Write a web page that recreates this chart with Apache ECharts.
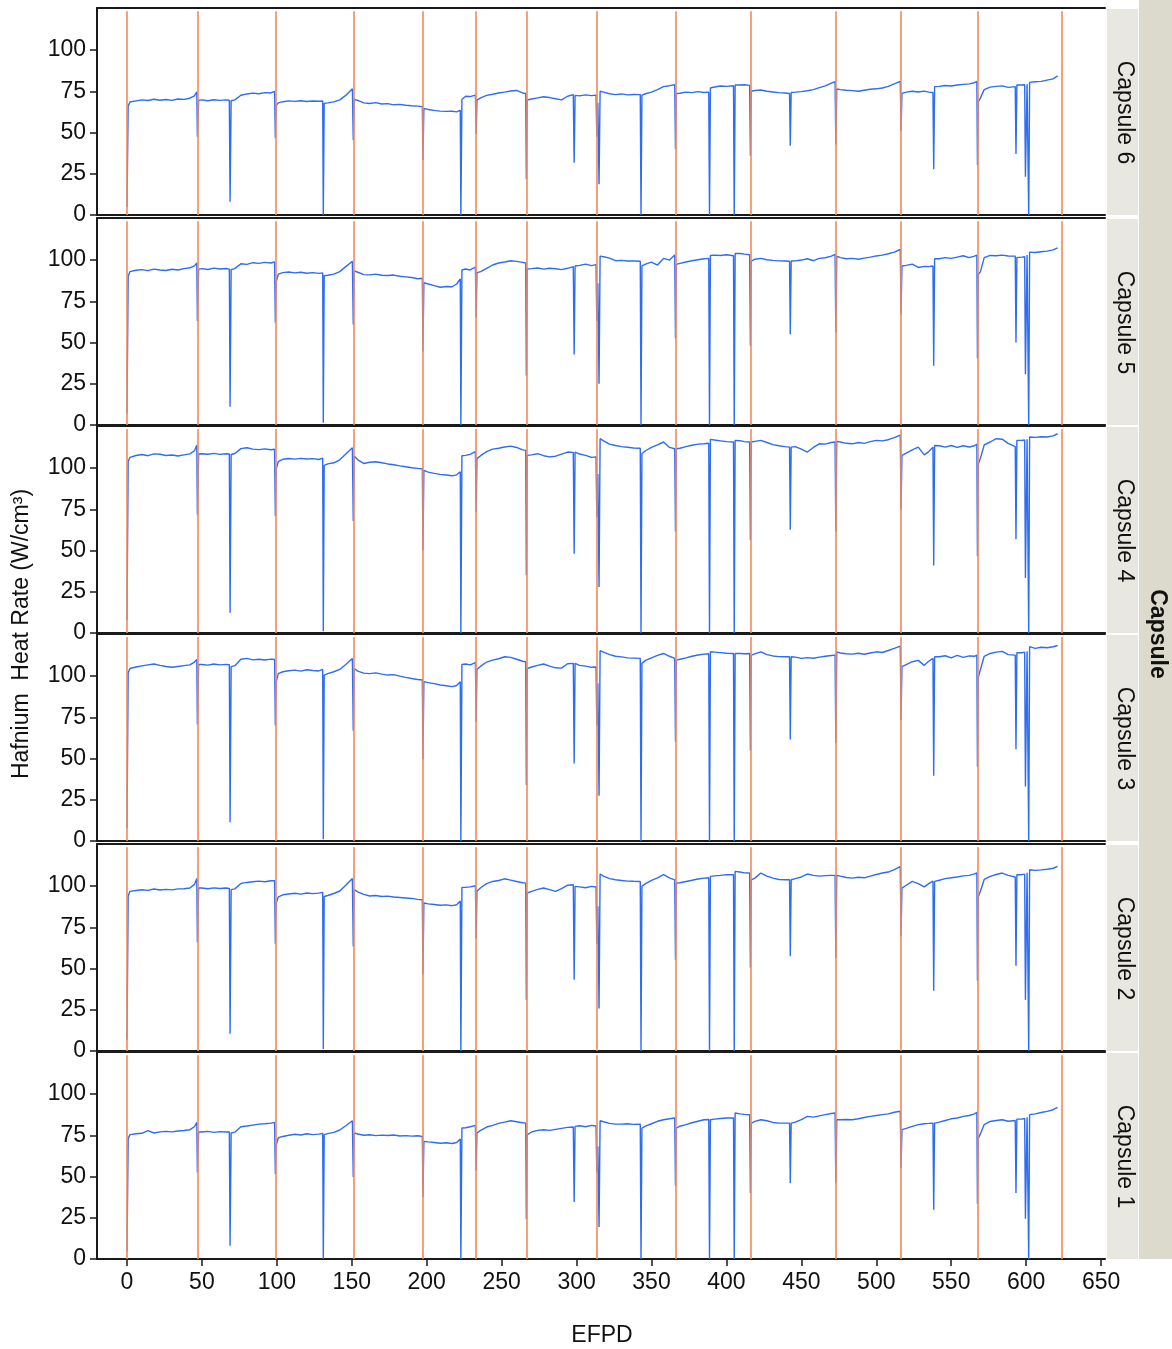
<!DOCTYPE html>
<html><head><meta charset="utf-8">
<script src="https://cdn.jsdelivr.net/npm/echarts@6/dist/echarts.min.js"></script>
<style>html,body{margin:0;padding:0;background:#fff}#c{width:1172px;height:1349px}</style>
</head><body><div id="c"></div>
<script>
// EFPD sample points (shared by all capsules)
const efpd = [
 0,0.8,2,6,10,14,18,22,26,30,34,38,42,45,46.6,47,47.8,
 50,54,58,62,66,68.3,68.8,69.5,72,76,80,84,88,92,96,98.5,99,99.6,
 101,104,108,112,116,120,124,128,130.6,131,131.6,
 134,138,142,146,150.4,151,151.6,
 154,158,162,166,170,174,178,182,186,190,194,197.1,197.5,198.1,
 201,205,209,213,217,220,222.4,222.8,223.5,
 226,229,232.5,233,233.5,
 236,240,244,248,252,256,260,264,266.1,266.5,267.1,
 270,274,278,282,286,290,294,297.8,298.4,299,
 302,306,310,313,313.5,314.2,315,315.7,
 318,322,326,330,334,338,342.5,343,343.6,
 346,350,354,358,362,365.5,366,366.6,
 369,373,377,381,385,388.2,388.7,389.3,
 392,396,400,404.7,405.2,405.8,
 409,412,415.5,416,416.6,
 419,423,427,431,435,439,442.1,442.6,443.2,
 446,450,454,458,462,466,470,472.5,473,473.6,
 476,480,484,488,492,496,500,504,508,512,516,516.5,517.1,
 520,524,528,532,535,537.8,538.3,538.9,
 542,546,550,554,558,562,565.5,567.1,567.5,568.1,
 569.5,572,576,580,584,588,592.7,593.2,593.8,
 597,599,599.5,600.6,601.7,602.3,
 606,610,614,618,621
];
const cap6 = [
 5,66,68.5,69.2,69.8,69.4,70.2,69.6,70,69.5,70.3,70.1,70.8,72.2,74.6,47.5,69.5,
 69.8,69.3,69.9,69.5,69.8,69.6,8,69.3,69.8,72.6,73.4,73.9,73.5,74.2,74,75,46.5,66.5,
 68,68.7,69.2,68.9,69.3,68.8,69.1,69,69.1,0,67.7,
 68,68.6,69.8,72.5,76.5,45.5,70,
 69.5,68,67.6,68.1,67.3,67.5,66.8,67.1,66.5,66.2,66,65.7,33.3,64.6,
 64,63.4,63,62.8,62.9,62.5,63.5,0,70,
 72,71.8,72.7,49,69.7,
 71,72.5,73.2,74,74.5,75.2,75.5,74,73.7,21.8,69.7,
 70.3,71,71.7,71.2,70.5,69.8,72,73,31.7,72.5,
 72.2,72.8,72.4,72.7,47.5,68,18.6,75,
 74.5,73.5,73,73.4,72.8,73.1,73,0,72.7,
 73.5,74.5,76,77.8,78.4,79,40,73.7,
 73.8,74.5,74.2,74.8,74.3,74.5,0,77,
 77.6,78.2,78,78.4,0,78.8,
 78.8,79,78.6,36,75,
 75.5,75.8,75,74.6,74.2,74,73.7,42,74.3,
 74.5,74.8,75.3,76,77.2,78.3,80,80.8,42.8,76.4,
 76,75.6,75.4,75,75.6,76.2,76.5,77,78,79.5,81,51,73.7,
 74.5,75,74.6,75.1,74.5,74.3,27.7,77.8,
 78,78.5,78.2,78.8,79.2,79.5,80.2,81,30.3,68.7,
 71,76,77.5,78,78.3,77.4,77.8,37,78.8,
 78.8,79,23.2,79.2,0,80.4,
 80.8,81,81.8,82.5,84.3
];
const cap5 = [
 7,90,93,93.8,94.2,93.6,94.5,94,93.7,94.4,94,94.8,95.3,96.5,98.2,63,94.5,
 94.8,94.3,95.1,94.6,94.9,94.5,11,94.2,94.8,97.8,97.4,98.4,98,98.6,98.2,98.8,62,87,
 91.5,92.4,92.8,92.2,92.6,92,92.4,91.9,92.2,1.4,90.5,
 90.8,91.5,93,96,99.3,61,93.4,
 92.6,91.2,91,91.5,90.8,90.6,90.9,90.2,89.8,89.4,88.7,89,44.6,86.3,
 85.5,84.5,83.5,84,83.8,85.5,88.5,0,94,
 94.6,94,95.8,65,92.4,
 93,95,97,98.2,98.8,99.6,99.2,98.6,98.2,30,94.6,
 94.8,95.2,94.5,95,94.7,94.2,95,96,42.7,96.4,
 96.8,97.5,96.6,97.2,63,86,25,102.4,
 102,101.2,99.6,99.8,99.4,99.4,99.3,0,96.4,
 97.5,98.8,97,101,100,103,52.6,97.4,
 98,98.8,99.6,100.2,100.8,101,0,102.8,
 103,102.8,103.2,102.6,0,104,
 104,103.6,103.2,48,99.4,
 100.5,101,100.2,99.8,99.5,99.4,99.3,55,99.4,
 99.5,100,100.8,99.6,101,101.4,102.4,103.4,56,102.4,
 101.5,100.8,101,100.5,101.2,101.8,102.5,103,103.8,104.8,106.4,67,96.4,
 96.8,97.5,95.5,96.2,96,96.4,36,100.8,
 100.8,101.5,101,101.8,102.6,101.5,102.4,103,40.5,91.4,
 93,101.5,102.8,102.6,103,102.5,102.4,50,101.5,
 101.8,102,30.7,103,0,104.8,
 104.6,105,105.4,106.2,107.4
];
const cap4 = [
 7.7,104,106.5,107.6,108.2,107.5,108.6,108.4,107.6,107.9,107.3,108,108.6,110.5,113.8,71.7,108.5,
 108.7,108.4,108.9,108.3,108.7,108.5,12.3,108.2,108.8,111.8,112.3,111.5,111.2,111.6,111.1,111.4,71,99.6,
 104,105.3,105.8,105.4,105.9,105.5,105.7,105.2,106,1,101.6,
 102.5,103.2,105,108.5,112.3,67.9,107.3,
 105,102.8,103.5,103.8,103.2,102.5,102,101.3,100.8,100.2,99.8,99.6,50,98.6,
 97.5,96.8,96.2,95.8,95.3,95.9,97.8,0,107.5,
 107.7,108.3,110,73.3,105.7,
 107.5,110,111.5,112,112.8,113.3,112.5,111,110.7,35,107.7,
 108,108.7,107.5,106.8,107.2,108.5,109.7,109.5,48,109.7,
 108.5,107.7,106.5,106.8,70.3,96.4,27.9,117.8,
 116.5,114.5,113.7,113,112.6,112.2,112,0,108.7,
 110.5,112.5,114,115.8,112.5,111.7,61.6,111.7,
 112,113,113.8,114.5,114.7,115,0,117.4,
 117,116.5,116,115.8,0,116.8,
 116.6,116,115.8,56.2,115.8,
 116.2,116.8,115.5,114.2,113.5,113,112.7,62.6,112.7,
 113,111.5,109.7,112.5,114.7,114.5,115.5,115.8,61.6,116.2,
 115.8,115,114.7,115.5,115,116,116.8,116.5,117.2,118.5,120,74.7,107.7,
 109,111,112.7,108,110,112.7,41,113.7,
 113.5,112.7,113.7,112.5,113.5,112.8,113.5,114.5,46.5,102.6,
 106,114,115.8,117.8,117.5,115,113,56.8,116.8,
 116.8,117,33.3,117.5,0,118.8,
 118.6,119,118.8,119.5,120.8
];
const cap3 = [
 7.7,102,104.6,105.5,106.2,106.8,107.3,106.5,105.8,105.3,105.8,106.3,106.8,108.5,110,70.7,107,
 107,106.6,107.3,106.8,107.1,106.9,11.3,105.7,106.3,110.2,110.7,109.8,110.2,109.7,110.3,110,70,96.6,
 101.5,102.6,103.2,103.6,103,103.8,103.4,103.1,104,1,100.6,
 101.5,102.6,104,107,110.7,66.9,104.6,
 103,101.8,101.5,101.9,101.2,100.6,100.9,100,99.2,98.5,97.9,97.6,49.5,96.6,
 96,95.4,94.6,94.1,93.6,94.3,96.5,0,107,
 107.3,106.8,108.2,72.3,104,
 106,108.5,109.7,110.5,111.7,111.3,110.2,109,108.7,34,104.6,
 105.5,106.5,107.3,106,105,104.8,107.5,107.7,47,107.7,
 106.5,106,105.3,105.5,70,95.6,27.5,115.4,
 114.5,113,112,111.6,111,110.9,110.7,0,107.7,
 109.5,111,112.5,113.7,112,110.7,60.2,109.7,
 110.2,111,112,112.8,113.3,113.5,0,114.7,
 114.5,114.2,113.8,113.7,0,113.7,
 113.7,113.5,113.7,54.7,112.7,
 113.5,114.7,113,112.2,111.8,111.7,111.7,61.6,111.7,
 111.5,110.7,111.2,110.8,111.5,112,112.5,112.7,59.6,114.7,
 114,113.5,113.3,113.8,113.2,114,114.7,114.3,115.5,116.8,118.2,73.3,105.7,
 107,108.7,109.5,106.5,109,110.7,39.6,111.7,
 111.7,112.3,111,112.5,111.3,112.2,112,112.7,45,99.6,
 104,112,113.7,114.5,115,113,112.7,55.6,114.1,
 114.1,114.5,33,115,0,117.8,
 116.8,117.5,117.2,117.8,118.5
];
const cap2 = [
 6.9,94,96.8,97.3,97.8,97.4,98.2,97.6,98,97.7,98.3,98.4,98.8,101,104.5,66,98.8,
 98.8,98.4,98.9,98.5,98.8,98.6,10.5,97.8,98.3,101.6,102.2,102.6,103,102.6,103.2,103.3,65,89.7,
 93.5,94.7,95.2,95.6,95.1,95.8,95.4,95.7,96.2,1.2,93.7,
 94.3,95.5,97,100.5,104.6,63.4,97.8,
 96.5,95,94,94.3,93.7,93.9,93.4,93.1,92.8,92.5,91.9,91.7,46.5,89.7,
 89.2,88.8,88.4,88.6,88.1,88.7,91,0,99.2,
 99.2,99.5,100.2,68,96.8,
 99,101.5,102.8,103.4,104.4,103.6,102.8,102,101.8,31.1,95.8,
 96.8,98,98.8,97.8,96.8,98.5,100.5,100.8,43.2,99.8,
 99.5,99,99.8,99.4,65,87.7,25.7,107.3,
 106,104.5,103.8,103.4,103,102.9,102.8,0,99.8,
 101.5,103.5,105,106.9,105,103.8,55.4,101.8,
 102,102.8,103.5,104.3,104.8,105,0,105.9,
 106.2,106.5,106.9,106.9,0,108.9,
 108.5,108,107.9,50.7,103.8,
 104.8,107.9,106,104.8,104,103.8,103.8,57.4,103.8,
 104.5,105.5,107.3,106.5,106,106.3,106.5,106.5,56.4,106.5,
 106,105.2,104.8,105.3,105,106,107,107.9,108.5,110,111.8,69.5,98.8,
 100.5,102.8,101.5,99.5,101.5,103,36.6,102.8,
 103.5,104.5,105,105.5,106.2,106.5,107.4,107.9,42.6,93.7,
 97,104,105.9,107,107.9,106.5,105.5,51.7,106.9,
 106.9,107.2,31,108,0,109.9,
 109.5,109.8,110.2,110.8,111.9
];
const cap1 = [
 4.6,73,75.4,75.9,76.2,77.8,76.4,77.1,77.4,77.1,77.6,77.9,78.4,80.2,82.8,52.5,77,
 77,77.4,76.8,77.2,77,77.1,8.1,76.4,76.9,80.2,80.6,81.2,81.8,82,82.4,82.8,51.5,69.3,
 73.5,74.3,75,75.6,75.2,75.9,75.4,75.7,76.2,0,75.4,
 76,76.8,78.2,80.8,83.8,49.7,76.4,
 75.8,75,75.3,74.8,75.1,74.9,75.2,74.6,74.8,74.5,74.7,74.3,37.4,71.3,
 71,70.6,70.2,70.5,70,70.6,72.8,0,79.4,
 79.6,80.2,81,53.5,76.4,
 78,80,81,82.2,83,83.8,83.2,82.6,82.4,24.2,75.4,
 77,78,78.4,78,78.6,79.2,79.8,80,34.5,80.4,
 80.8,80.2,81,80.6,52.5,68.3,19.4,83.8,
 83.2,82.2,81.8,81.8,82,81.6,81.8,0,79.4,
 80.5,82,83.5,84.4,85,85.5,44.4,79.4,
 80.5,81.5,82.6,83.5,84.4,84.6,0,84.4,
 84.8,85.2,85.5,85.5,0,88.5,
 88,87.7,87.5,40,82.4,
 83.4,84.4,83.8,82.8,82.4,82.4,82.4,46,82.4,
 83,84.5,86.5,86,86.8,87.5,88.2,88.5,46,84.4,
 84.4,84.6,84.4,85,85.8,86.5,87,87.5,88,89,89.6,55.2,78.4,
 79.2,80.4,81.5,82,82.2,82.4,29.9,82.4,
 83,84,85,85.5,86.5,87,88,89,33.5,73.3,
 76,81.5,83.4,84,84.4,83.5,84,40,84.8,
 84.8,85.2,24.4,86,0,87.5,
 88,88.8,89.5,90.5,91.9
];
const panelNames = ['Capsule 6','Capsule 5','Capsule 4','Capsule 3','Capsule 2','Capsule 1'];
const panelData = [cap6, cap5, cap4, cap3, cap2, cap1];
const reloadDays = [0,47,99,151,197.5,233,266.5,313.5,366,416,473,516.5,567.5,623.5];
const yTicks = [0,25,50,75,100];
const xTicks = [0,50,100,150,200,250,300,350,400,450,500,550,600,650];

const FONT = '"Liberation Sans", Arial, Helvetica, sans-serif';
const FS = 23;
const L = 97, W = 1008, H = 207;
const tops = [8, 218, 426, 634, 844, 1052];
const N = panelNames.length;

const grid = [], xAxis = [], yAxis = [], series = [], graphic = [];
for (let i = 0; i < N; i++) {
  const last = i === N - 1;
  grid.push({left: L, top: tops[i], width: W, height: H});
  xAxis.push({
    type: 'value', gridIndex: i, min: -20, max: 652.6, position: 'bottom',
    axisLine: {show: true, onZero: false, lineStyle: {color: '#1a1a1a', width: 2}},
    axisTick: {show: last, length: 7, lineStyle: {color: '#1a1a1a', width: 1.5}, customValues: xTicks},
    axisLabel: {show: last, customValues: xTicks, fontSize: FS, color: '#111', fontFamily: FONT, margin: 12},
    splitLine: {show: false}
  });
  xAxis.push({
    type: 'value', gridIndex: i, min: -20, max: 652.6, position: 'top',
    axisLine: {show: true, onZero: false, lineStyle: {color: '#1a1a1a', width: 2}},
    axisTick: {show: false}, axisLabel: {show: false}, splitLine: {show: false}
  });
  yAxis.push({
    type: 'value', gridIndex: i, min: 0, max: 125.5,
    axisLine: {show: true, onZero: false, lineStyle: {color: '#1a1a1a', width: 2}},
    axisTick: {show: true, length: 7, lineStyle: {color: '#1a1a1a', width: 1.5}, customValues: yTicks},
    axisLabel: {customValues: yTicks, fontSize: FS, color: '#111', fontFamily: FONT, margin: 11},
    splitLine: {show: false}
  });
  series.push({
    type: 'line', xAxisIndex: 2 * i, yAxisIndex: i, data: [], z: 1, silent: true,
    markLine: {
      silent: true, symbol: ['none', 'none'], label: {show: false}, animation: false,
      lineStyle: {color: '#f4875a', width: 1.6, type: 'solid'},
      emphasis: {disabled: true},
      data: reloadDays.map(d => [{coord: [d, 0]}, {coord: [d, 123.6]}])
    }
  });
  series.push({
    type: 'line', xAxisIndex: 2 * i, yAxisIndex: i, z: 3,
    data: efpd.map((x, j) => [x, panelData[i][j]]),
    showSymbol: false, symbol: 'none',
    lineStyle: {color: '#2d6cf5', width: 1.4},
    emphasis: {disabled: true}
  });
  // facet strip
  graphic.push({type: 'rect', shape: {x: 1107, y: tops[i] + 1, width: 31, height: H - 1},
    style: {fill: '#e8e7e0'}, silent: true});
  graphic.push({type: 'text', x: 1124, y: tops[i] + H / 2 + 1, rotation: -Math.PI / 2,
    style: {text: panelNames[i], font: FS + 'px ' + FONT, fill: '#111', align: 'center', verticalAlign: 'middle'}, silent: true});
}
graphic.push({type: 'rect', shape: {x: 1139, y: 0, width: 33, height: 1259},
  style: {fill: '#dcdacd'}, silent: true});
graphic.push({type: 'text', x: 1157, y: 634, rotation: -Math.PI / 2,
  style: {text: 'Capsule', font: 'bold ' + FS + 'px ' + FONT, fill: '#111', align: 'center', verticalAlign: 'middle'}, silent: true});
graphic.push({type: 'text', x: 22, y: 634, rotation: Math.PI / 2,
  style: {text: 'Hafnium  Heat Rate (W/cm³)', font: FS + 'px ' + FONT, fill: '#111', align: 'center', verticalAlign: 'middle'}, silent: true});
graphic.push({type: 'text', x: 602, y: 1336,
  style: {text: 'EFPD', font: FS + 'px ' + FONT, fill: '#111', align: 'center', verticalAlign: 'middle'}, silent: true});

const chart = echarts.init(document.getElementById('c'), null, {renderer: 'canvas'});
chart.setOption({
  animation: false,
  backgroundColor: '#ffffff',
  textStyle: {fontFamily: FONT},
  grid, xAxis, yAxis, series, graphic
});
</script>
</body></html>
